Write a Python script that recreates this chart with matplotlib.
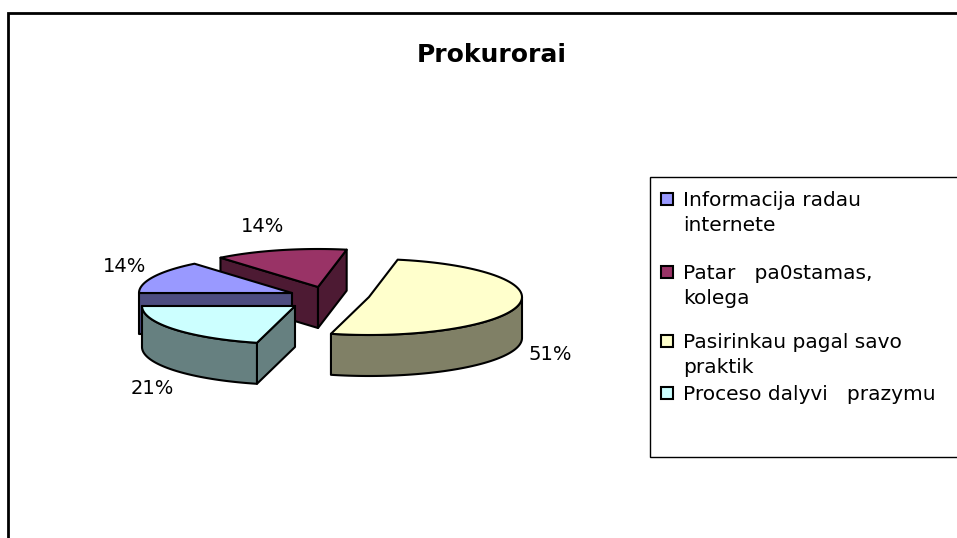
import numpy as np
import matplotlib
matplotlib.use("Agg")
import matplotlib.pyplot as plt
from matplotlib.patches import Polygon, Rectangle

# ---- data ----
title = "Prokurorai"
categories = [
    "Informacija radau\ninternete",
    "Patar   pa0stamas,\nkolega",
    "Pasirinkau pagal savo\npraktik",
    "Proceso dalyvi   prazymu",
]
values = [14, 14, 51, 21]

# ---- style ----
top_colors = ["#9999FF", "#993366", "#FFFFCC", "#CCFFFF"]
side_colors = ["#4D4D80", "#4D1A33", "#808066", "#668080"]
START_ANGLE = 180.0          # first slice starts at 9 o'clock, clockwise
RX, RY, DEPTH = 153.0, 38.0, 41.0
BASE = np.array([300.0, 298.0])
OFFSETS = [(-8, -5), (18, -11), (69, -1), (-5, 8)]         # exploded slice shifts (px)
LABEL_OFFSETS = [(-167, -26), (-55, -61), (181, 58), (-143, 82)]
DRAW_ORDER = [1, 0, 3, 2]

W, H = 957, 538
fig = plt.figure(figsize=(W / 100, H / 100), dpi=100)
ax = fig.add_axes([0, 0, 1, 1])
ax.set_xlim(0, W)
ax.set_ylim(H, 0)
ax.axis("off")

# chart frame
ax.plot([8, 8, W + 5], [H + 5, 13, 13], color="black", lw=2, solid_joinstyle="miter")

ax.text(492, 55, title, ha="center", va="center", fontsize=18, fontweight="bold",
        family="DejaVu Sans")


def pt(c, ang, down=0.0):
    a = np.deg2rad(ang)
    return np.array([c[0] + RX * np.cos(a), c[1] - RY * np.sin(a) + down])


def arc(c, a_from, a_to, down=0.0, n=80):
    angs = np.linspace(a_from, a_to, n)
    return np.array([pt(c, a, down) for a in angs])


total = float(sum(values))
spans = [v / total * 360.0 for v in values]
bounds = []
a = START_ANGLE
for s in spans:
    bounds.append((a, a - s))   # (start a1, end a2), clockwise
    a -= s
# normalise ranges so the front half is (-180, 0)
norm_bounds = []
for a1, a2 in bounds:
    while a2 < -180 - 1e-9:
        a1 += 360
        a2 += 360
    while a1 > 180 + 1e-9:
        a1 -= 360
        a2 -= 360
    norm_bounds.append((a1, a2))

lw = 1.5
for i in DRAW_ORDER:
    a1, a2 = norm_bounds[i]
    c = BASE + np.array(OFFSETS[i], dtype=float)
    cd = c + np.array([0, DEPTH])
    # radial faces
    for ang, vis in ((a1, np.cos(np.deg2rad(a1)) < -1e-9), (a2, np.cos(np.deg2rad(a2)) > 1e-9)):
        if vis:
            poly = [c, pt(c, ang), pt(c, ang, DEPTH), cd]
            ax.add_patch(Polygon(poly, closed=True, fc=side_colors[i], ec="black",
                                 lw=lw, joinstyle="round"))
    # outer curved side (front part only)
    lo, hi = max(a2, -180.0), min(a1, 0.0)
    if hi > lo:
        top = arc(c, hi, lo)
        bot = arc(c, lo, hi, DEPTH)
        ax.add_patch(Polygon(np.vstack([top, bot]), closed=True, fc=side_colors[i],
                             ec="black", lw=lw, joinstyle="round"))
    # top face
    poly = np.vstack([[c], arc(c, a1, a2)])
    ax.add_patch(Polygon(poly, closed=True, fc=top_colors[i], ec="black", lw=lw,
                         joinstyle="round"))
    # percentage label
    lx, ly = c + np.array(LABEL_OFFSETS[i], dtype=float)
    ax.text(lx, ly, f"{values[i] / total * 100:.0f}%", ha="center", va="center",
            fontsize=14, family="DejaVu Sans")

# legend (manual, Excel style)
ax.add_patch(Rectangle((650, 177), 320, 280, fc="white", ec="black", lw=1.0))
row_y = [199, 272, 341, 393]
for i, lab in enumerate(categories):
    y = row_y[i]
    ax.add_patch(Rectangle((661, y - 6), 12, 12, fc=top_colors[i], ec="black", lw=1.5))
    ax.text(683, y - 8, lab, ha="left", va="top", fontsize=14.5, family="DejaVu Sans",
            linespacing=1.4)

fig.savefig("out.png", dpi=100)
